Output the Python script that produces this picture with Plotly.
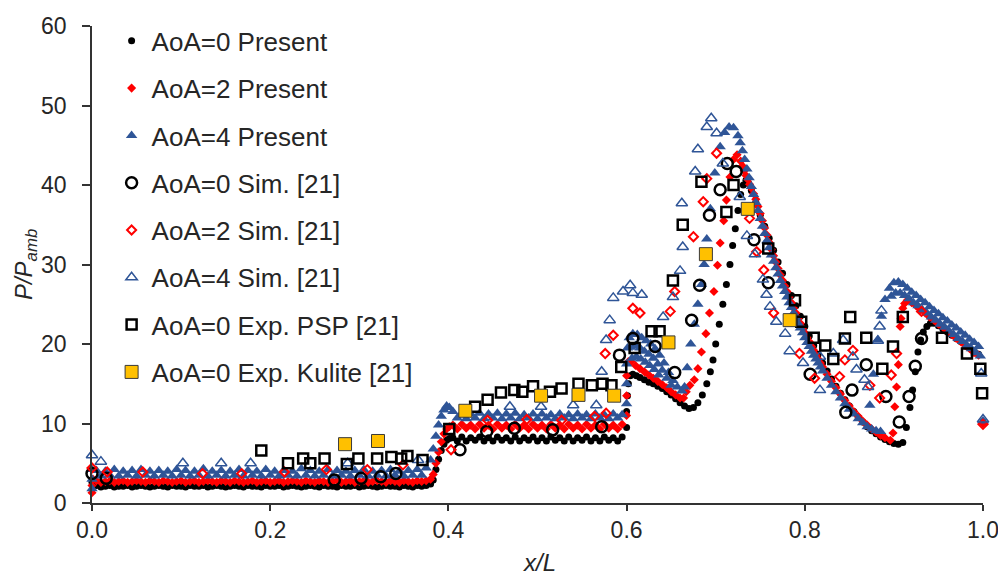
import plotly.graph_objects as go

# ---------------- data ----------------
# shared x positions of the dense "Present" samples in the two plateau regions
x_flat1 = [0.005, 0.010, 0.015, 0.020, 0.025, 0.030, 0.035, 0.040, 0.045, 0.050,
           0.055, 0.060, 0.065, 0.070, 0.075, 0.080, 0.085, 0.090, 0.095, 0.100,
           0.105, 0.110, 0.115, 0.120, 0.125, 0.130, 0.135, 0.140, 0.145, 0.150,
           0.155, 0.160, 0.165, 0.170, 0.175, 0.180, 0.185, 0.190, 0.195, 0.200,
           0.205, 0.210, 0.215, 0.220, 0.225, 0.230, 0.235, 0.240, 0.245, 0.250,
           0.255, 0.260, 0.265, 0.270, 0.275, 0.280, 0.285, 0.290, 0.295, 0.300,
           0.305, 0.310, 0.315, 0.320, 0.325, 0.330, 0.335, 0.340, 0.345, 0.350,
           0.355, 0.360, 0.365, 0.370, 0.375, 0.380]
x_ramp = [0.383, 0.386, 0.389, 0.392, 0.395, 0.398, 0.401]
x_flat2 = [0.405, 0.410, 0.415, 0.420, 0.425, 0.430, 0.435, 0.440, 0.445, 0.450,
           0.455, 0.460, 0.465, 0.470, 0.475, 0.480, 0.485, 0.490, 0.495, 0.500,
           0.505, 0.510, 0.515, 0.520, 0.525, 0.530, 0.535, 0.540, 0.545, 0.550,
           0.555, 0.560, 0.565, 0.570, 0.575, 0.580, 0.585, 0.590, 0.595]

# ---- AoA=0 Present ----
aoa0_x_lead = [0.000, 0.001]
aoa0_y_lead = [2.6, 2.1]
aoa0_y_flat1 = [2.2, 2.0, 2.1, 2.2, 2.0, 2.1, 2.1, 2.2, 2.0, 2.1,
                2.2, 2.1, 2.0, 2.1, 2.2, 2.1, 2.0, 2.2, 2.1, 2.1,
                2.0, 2.2, 2.1, 2.1, 2.2, 2.0, 2.1, 2.2, 2.1, 2.0,
                2.1, 2.2, 2.1, 2.0, 2.2, 2.1, 2.1, 2.0, 2.2, 2.1,
                2.1, 2.2, 2.0, 2.1, 2.2, 2.1, 2.0, 2.1, 2.2, 2.1,
                2.0, 2.2, 2.1, 2.1, 2.0, 2.2, 2.1, 2.1, 2.2, 2.0,
                2.1, 2.2, 2.1, 2.0, 2.1, 2.2, 2.1, 2.1, 2.0, 2.2,
                2.1, 2.0, 2.2, 2.1, 2.2, 2.4]
aoa0_y_ramp = [2.9, 4.2, 5.5, 6.6, 7.4, 7.9, 8.1]
aoa0_y_flat2 = [8.2, 7.8, 8.3, 7.8, 8.2, 7.9, 8.3, 7.8, 8.2, 7.8,
                8.3, 7.9, 8.2, 7.8, 8.3, 7.8, 8.2, 7.9, 8.3, 7.8,
                8.2, 7.8, 8.3, 7.9, 8.2, 7.8, 8.3, 7.8, 8.2, 7.9,
                8.3, 7.8, 8.2, 7.8, 8.3, 7.9, 8.2, 7.8, 8.3]
aoa0_x_aft = [0.600, 0.600, 0.601, 0.602, 0.604, 0.607, 0.611, 0.615, 0.620, 0.625,
              0.630, 0.635, 0.640, 0.645, 0.650, 0.655, 0.660, 0.665, 0.670, 0.675,
              0.680, 0.685, 0.690, 0.694, 0.697, 0.700, 0.704, 0.708, 0.712, 0.716,
              0.719, 0.722, 0.725, 0.728, 0.731, 0.734, 0.737, 0.740, 0.745, 0.750,
              0.755, 0.760, 0.765, 0.770, 0.775, 0.780, 0.785, 0.790, 0.795, 0.800,
              0.805, 0.810, 0.815, 0.820, 0.825, 0.830, 0.835, 0.840, 0.845, 0.850,
              0.855, 0.860, 0.865, 0.870, 0.875, 0.880, 0.885, 0.890, 0.895, 0.900,
              0.905, 0.910, 0.914, 0.918, 0.921, 0.924, 0.927, 0.930, 0.933, 0.937,
              0.941, 0.945, 0.950, 0.955, 0.960, 0.965, 0.970, 0.975, 0.980, 0.985,
              0.990, 0.995, 1.000]
aoa0_y_aft = [9.5, 11.5, 13.5, 15.0, 16.0, 16.2, 16.0, 15.8, 15.5, 15.2,
              15.0, 14.7, 14.4, 14.0, 13.6, 13.1, 12.6, 12.2, 11.9, 12.0,
              12.6, 13.6, 15.0, 16.5, 18.0, 20.0, 22.5, 25.0, 27.5, 30.0,
              32.4, 34.5, 36.8, 38.8, 40.0, 40.6, 40.2, 39.3, 37.8, 36.2,
              34.8, 33.3, 31.8, 30.3, 28.9, 27.5, 26.1, 24.8, 23.5, 22.2,
              21.0, 19.8, 18.7, 17.6, 16.6, 15.6, 14.7, 13.8, 13.0, 12.2,
              11.5, 10.8, 10.2, 9.6, 9.1, 8.7, 8.3, 8.0, 7.7, 7.5,
              7.4, 7.6, 9.5, 12.0, 14.2, 16.5, 19.0, 20.5, 21.5, 22.2,
              22.6, 22.6, 22.3, 21.9, 21.5, 21.1, 20.7, 20.3, 19.9, 19.5,
              19.1, 18.7, 10.2]

# ---- AoA=2 Present ----
aoa2_x_lead = [0.000, 0.000, 0.001]
aoa2_y_lead = [1.3, 2.2, 3.0]
aoa2_y_flat1 = [2.8, 2.6, 2.7, 2.8, 2.6, 2.7, 2.8, 2.6, 2.7, 2.8,
                2.7, 2.6, 2.8, 2.7, 2.6, 2.8, 2.7, 2.6, 2.7, 2.8,
                2.6, 2.7, 2.8, 2.6, 2.7, 2.8, 2.7, 2.6, 2.8, 2.7,
                2.6, 2.8, 2.7, 2.6, 2.7, 2.8, 2.6, 2.7, 2.8, 2.6,
                2.7, 2.8, 2.6, 2.7, 2.8, 2.7, 2.6, 2.8, 2.7, 2.6,
                2.8, 2.7, 2.6, 2.7, 2.8, 2.6, 2.7, 2.8, 2.6, 2.7,
                2.8, 2.6, 2.7, 2.8, 2.7, 2.6, 2.8, 2.7, 2.6, 2.8,
                2.7, 2.6, 2.8, 2.7, 2.8, 3.0]
aoa2_y_ramp = [3.6, 5.0, 6.4, 7.7, 8.7, 9.3, 9.6]
aoa2_y_flat2 = [9.8, 9.3, 9.9, 9.4, 9.8, 9.3, 9.9, 9.4, 9.8, 9.3,
                9.9, 9.4, 9.8, 9.3, 9.9, 9.4, 9.8, 9.3, 9.9, 9.4,
                9.8, 9.3, 9.9, 9.4, 9.8, 9.3, 9.9, 9.4, 9.8, 9.3,
                9.9, 9.4, 9.8, 9.3, 9.9, 9.4, 9.8, 9.3, 9.9]
aoa2_x_aft = [0.600, 0.600, 0.600, 0.602, 0.605, 0.610, 0.615, 0.620, 0.625, 0.630,
              0.635, 0.640, 0.645, 0.650, 0.655, 0.660, 0.664, 0.667, 0.671, 0.676,
              0.680, 0.684, 0.689, 0.693, 0.698, 0.702, 0.705, 0.709, 0.712, 0.716,
              0.720, 0.724, 0.728, 0.730, 0.732, 0.734, 0.736, 0.738, 0.740, 0.7425,
              0.745, 0.7475, 0.750, 0.7525, 0.755, 0.7575, 0.760, 0.7625, 0.765, 0.7675,
              0.770, 0.7725, 0.775, 0.7775, 0.780, 0.7825, 0.785, 0.7875, 0.790, 0.7925,
              0.795, 0.7975, 0.800, 0.8025, 0.805, 0.8075, 0.810, 0.8125, 0.815, 0.8175,
              0.820, 0.825, 0.830, 0.835, 0.840, 0.845, 0.850, 0.855, 0.860, 0.865,
              0.870, 0.875, 0.880, 0.885, 0.890, 0.896, 0.899, 0.901, 0.903, 0.905,
              0.907, 0.908, 0.910, 0.912, 0.915, 0.920, 0.925, 0.930, 0.935, 0.940,
              0.945, 0.950, 0.955, 0.960, 0.965, 0.970, 0.975, 0.980, 0.985, 0.990,
              0.995, 1.000]
aoa2_y_aft = [11.0, 13.5, 16.0, 17.8, 17.8, 17.3, 16.9, 16.5, 16.1, 15.7,
              15.3, 14.9, 14.5, 14.0, 13.6, 13.2, 13.2, 14.0, 14.8, 15.5,
              16.9, 19.0, 21.3, 23.9, 26.6, 29.9, 32.7, 35.5, 38.1, 41.0,
              43.2, 43.8, 43.0, 42.4, 41.8, 41.2, 40.7, 40.1, 39.6, 38.9,
              38.2, 37.3, 36.4, 35.5, 34.6, 33.7, 32.8, 31.9, 31.1, 30.3,
              29.5, 28.7, 28.0, 27.3, 26.6, 25.9, 25.2, 24.5, 23.9, 23.2,
              22.6, 22.0, 21.4, 20.8, 20.3, 19.7, 19.2, 18.6, 18.1, 17.6,
              17.1, 16.2, 15.3, 14.5, 13.7, 12.9, 12.2, 11.5, 10.9, 10.3,
              9.8, 9.3, 8.9, 8.5, 8.2, 7.9, 8.8, 12.1, 14.6, 17.4,
              22.2, 23.2, 24.5, 25.1, 25.5, 25.2, 24.8, 24.3, 23.9, 23.4,
              23.0, 22.5, 22.1, 21.6, 21.2, 20.7, 20.3, 19.8, 19.4, 18.9,
              18.6, 10.0]

# ---- AoA=4 Present ----
aoa4_x_lead = [0.000, 0.000, 0.000]
aoa4_y_lead = [1.8, 3.0, 4.2]
aoa4_y_flat1 = [4.1, 3.4, 4.0, 3.5, 4.2, 3.4, 4.0, 3.5, 4.1, 3.4,
                4.2, 3.5, 4.0, 3.4, 4.1, 3.5, 4.0, 3.4, 4.2, 3.5,
                4.1, 3.4, 4.0, 3.5, 4.3, 3.4, 4.0, 3.5, 4.1, 3.4,
                4.0, 3.5, 4.2, 3.4, 4.1, 3.5, 4.0, 3.4, 4.2, 3.5,
                4.0, 3.4, 4.1, 3.5, 4.0, 3.4, 4.3, 3.5, 4.1, 3.4,
                4.0, 3.5, 4.2, 3.4, 4.1, 3.5, 4.0, 3.4, 4.1, 3.5,
                4.2, 3.4, 4.0, 3.5, 4.1, 3.4, 4.2, 3.5, 4.0, 3.4,
                4.1, 3.5, 4.2, 3.5, 4.4, 5.4]
aoa4_y_ramp = [6.8, 8.4, 9.8, 10.9, 11.7, 12.2, 12.0]
aoa4_y_flat2 = [11.5, 10.7, 11.3, 10.6, 11.2, 10.7, 11.3, 10.6, 11.2, 10.7,
                11.3, 10.6, 11.2, 10.7, 11.3, 10.6, 11.1, 10.7, 11.2, 10.6,
                11.2, 10.7, 11.1, 10.6, 11.2, 10.7, 11.1, 10.6, 11.2, 10.7,
                11.1, 10.6, 11.2, 10.7, 11.1, 10.6, 11.2, 10.7, 11.1]
aoa4_x_aft = [0.600, 0.600, 0.600, 0.601, 0.603, 0.607, 0.612, 0.617, 0.622, 0.627,
              0.632, 0.637, 0.642, 0.647, 0.652, 0.657, 0.662, 0.665, 0.668, 0.672,
              0.676, 0.680, 0.684, 0.687, 0.690, 0.694, 0.699, 0.705, 0.710, 0.715,
              0.720, 0.725, 0.7275, 0.730, 0.7325, 0.735, 0.7375, 0.740, 0.7425, 0.745,
              0.7475, 0.750, 0.7525, 0.755, 0.7575, 0.760, 0.7625, 0.765, 0.7675, 0.770,
              0.7725, 0.775, 0.7775, 0.780, 0.7825, 0.785, 0.7875, 0.790, 0.7925, 0.795,
              0.7975, 0.800, 0.8025, 0.805, 0.8075, 0.810, 0.8125, 0.815, 0.8175, 0.820,
              0.825, 0.830, 0.835, 0.840, 0.845, 0.850, 0.855, 0.860, 0.865, 0.870,
              0.875, 0.880, 0.885, 0.873, 0.877, 0.882, 0.886, 0.890, 0.895, 0.900,
              0.905, 0.910, 0.915, 0.920, 0.925, 0.930, 0.935, 0.940, 0.945, 0.950,
              0.955, 0.960, 0.965, 0.970, 0.975, 0.980, 0.985, 0.990, 0.995, 1.000]
aoa4_y_aft = [12.5, 15.0, 17.5, 19.5, 20.8, 21.3, 21.2, 20.8, 20.4, 20.0,
              19.4, 18.6, 17.6, 16.4, 15.4, 14.6, 14.1, 14.6, 17.0, 20.0,
              22.5, 25.0, 27.5, 30.0, 33.2, 37.0, 41.5, 44.8, 46.6, 47.3,
              47.2, 46.2, 45.3, 44.3, 43.2, 42.0, 40.9, 39.8, 38.8, 37.8,
              36.8, 35.8, 34.8, 33.9, 33.0, 32.1, 31.2, 30.4, 29.6, 28.8,
              28.0, 27.3, 26.6, 25.9, 25.2, 24.6, 23.9, 23.3, 22.6, 22.0,
              21.4, 20.8, 20.2, 19.7, 19.1, 18.6, 18.1, 17.6, 17.1, 16.6,
              15.7, 14.8, 14.0, 13.2, 12.5, 11.8, 11.2, 10.6, 10.1, 9.6,
              9.3, 9.1, 9.0, 12.3, 16.2, 20.5, 23.5, 25.6, 27.0, 27.7,
              27.8, 27.5, 27.0, 26.5, 26.1, 25.6, 25.2, 24.7, 24.2, 23.8,
              23.3, 22.9, 22.4, 22.0, 21.5, 21.1, 20.6, 20.2, 19.7, 10.3]
# second / third rows of the thick AoA=4 bands
aoa4_x_rows = [0.605, 0.610, 0.615, 0.620, 0.625, 0.630, 0.635, 0.640, 0.645, 0.650,
               0.606, 0.611, 0.616, 0.621, 0.626, 0.631, 0.636,
               0.897, 0.902, 0.907, 0.912, 0.917, 0.922, 0.927, 0.932, 0.937, 0.942,
               0.947, 0.952, 0.957, 0.962, 0.967, 0.972, 0.977, 0.982, 0.987, 0.992, 0.997]
aoa4_y_rows = [19.6, 19.8, 19.5, 19.1, 18.7, 18.2, 17.5, 16.7, 15.7, 14.8,
               18.2, 18.4, 18.1, 17.7, 17.3, 16.8, 16.1,
               26.0, 26.4, 26.4, 26.1, 25.7, 25.2, 24.8, 24.3, 23.9, 23.4,
               23.0, 22.5, 22.1, 21.6, 21.2, 20.7, 20.3, 19.8, 19.4, 18.9, 18.5]

# ---- AoA=0 Sim. [21] ----
sim0_x = [0.000, 0.016, 0.272, 0.302, 0.324, 0.341, 0.413, 0.443, 0.474, 0.517,
          0.572, 0.592, 0.607, 0.632, 0.654, 0.673, 0.682, 0.693, 0.705, 0.713,
          0.723, 0.743, 0.759, 0.806, 0.846, 0.853, 0.869, 0.891, 0.906, 0.917,
          0.924, 0.931]
sim0_y = [3.7, 3.1, 2.9, 3.1, 3.3, 3.7, 6.7, 9.0, 9.4, 9.2,
          9.6, 18.6, 20.7, 19.7, 16.4, 23.0, 27.4, 36.2, 39.4, 42.7,
          41.7, 33.1, 27.7, 16.2, 11.4, 14.2, 17.4, 13.4, 10.2, 13.4,
          17.2, 20.7]

# ---- AoA=2 Sim. [21] ----
sim2_x = [0.000, 0.017, 0.057, 0.124, 0.168, 0.216, 0.263, 0.309, 0.349, 0.403,
          0.444, 0.488, 0.527, 0.564, 0.577, 0.576, 0.585, 0.607, 0.615, 0.649,
          0.654, 0.675, 0.686, 0.690, 0.701, 0.738, 0.746, 0.754, 0.765, 0.794,
          0.811, 0.839, 0.845, 0.854, 0.873, 0.884, 0.897, 0.903, 0.931, 1.000]
sim2_y = [4.4, 3.9, 3.9, 3.7, 3.7, 3.9, 4.2, 4.2, 4.8, 6.7,
          10.4, 10.5, 10.4, 10.9, 11.3, 18.8, 21.1, 24.5, 23.9, 24.1,
          26.6, 33.5, 37.9, 40.8, 44.0, 35.8, 31.6, 29.3, 23.9, 18.8,
          15.7, 15.9, 18.0, 19.2, 14.8, 13.2, 16.1, 18.8, 24.1, 9.9]

# ---- AoA=4 Sim. [21] ----
sim4_x = [0.000, 0.010, 0.102, 0.145, 0.178, 0.287, 0.366, 0.469, 0.504, 0.540,
          0.566, 0.572, 0.577, 0.581, 0.585, 0.596, 0.604, 0.607, 0.617, 0.641,
          0.652, 0.660, 0.663, 0.662, 0.677, 0.680, 0.690, 0.695, 0.701, 0.708,
          0.727, 0.735, 0.744, 0.753, 0.757, 0.761, 0.768, 0.778, 0.783, 0.798,
          0.817, 0.817, 0.832, 0.843, 0.854, 0.858, 0.867, 0.871, 0.882, 0.884,
          0.886, 0.998, 1.000]
sim4_y = [6.0, 5.2, 5.0, 5.0, 5.0, 5.0, 5.4, 12.1, 12.1, 12.3,
          12.3, 16.5, 20.5, 23.0, 25.8, 26.6, 27.4, 26.4, 26.2, 23.4,
          25.9, 29.2, 32.2, 37.7, 41.7, 44.5, 47.3, 48.4, 46.5, 42.7,
          38.5, 33.6, 31.3, 28.1, 26.2, 24.7, 22.8, 21.3, 19.1, 17.6,
          14.2, 18.4, 18.8, 20.5, 18.4, 16.8, 15.5, 14.6, 20.4, 22.2,
          24.2, 16.3, 10.5]

# ---- AoA=0 Exp. PSP [21] ----
psp_x = [0.190, 0.220, 0.237, 0.245, 0.261, 0.286, 0.299, 0.320, 0.336, 0.347,
         0.354, 0.371, 0.401, 0.430, 0.444, 0.459, 0.474, 0.483, 0.495, 0.514,
         0.527, 0.546, 0.561, 0.573, 0.583, 0.594, 0.609, 0.628, 0.637, 0.652,
         0.663, 0.684, 0.712, 0.720, 0.759, 0.789, 0.796, 0.810, 0.823, 0.832,
         0.845, 0.851, 0.869, 0.887, 0.899, 0.910, 0.954, 0.982, 0.997, 0.999]
psp_y = [6.6, 5.0, 5.6, 5.0, 5.6, 4.9, 5.6, 5.6, 5.8, 5.6,
         5.9, 5.4, 9.3, 12.1, 13.0, 13.9, 14.2, 14.0, 14.7, 14.0,
         14.4, 15.0, 14.8, 15.0, 14.8, 17.1, 19.5, 21.6, 21.6, 28.0,
         35.0, 40.4, 36.6, 40.0, 32.0, 25.5, 22.8, 20.8, 19.8, 18.1,
         20.7, 23.4, 20.8, 16.9, 19.7, 23.4, 20.8, 18.8, 16.9, 13.8]

# ---- AoA=0 Exp. Kulite [21] ----
kul_x = [0.284, 0.321, 0.419, 0.504, 0.546, 0.586, 0.647, 0.689, 0.736, 0.783]
kul_y = [7.4, 7.8, 11.6, 13.5, 13.6, 13.5, 20.2, 31.3, 37.0, 23.0]

# axis ticks
x_ticks = [0.0, 0.2, 0.4, 0.6, 0.8, 1.0]
x_tick_text = ["0.0", "0.2", "0.4", "0.6", "0.8", "1.0"]
y_ticks = [0, 10, 20, 30, 40, 50, 60]

# ---------------- figure ----------------
BLUE = "#2F5597"
RED = "#FF0000"
BLACK = "#000000"
GOLD = "#FFC000"
TXT = "#262626"
FONT = "Liberation Sans, Arial, sans-serif"

aoa0_x = aoa0_x_lead + x_flat1 + x_ramp + x_flat2 + aoa0_x_aft
aoa0_y = aoa0_y_lead + aoa0_y_flat1 + aoa0_y_ramp + aoa0_y_flat2 + aoa0_y_aft
aoa2_x = aoa2_x_lead + x_flat1 + x_ramp + x_flat2 + aoa2_x_aft
aoa2_y = aoa2_y_lead + aoa2_y_flat1 + aoa2_y_ramp + aoa2_y_flat2 + aoa2_y_aft
aoa4_x = aoa4_x_lead + x_flat1 + x_ramp + x_flat2 + aoa4_x_aft + aoa4_x_rows
aoa4_y = aoa4_y_lead + aoa4_y_flat1 + aoa4_y_ramp + aoa4_y_flat2 + aoa4_y_aft + aoa4_y_rows

fig = go.Figure()


def add(name, x, y, symbol, size, color, line_color=None, line_width=0):
    fig.add_trace(go.Scatter(
        x=x, y=y, mode="markers", name=name, legendgroup=name,
        cliponaxis=False,
        marker=dict(symbol=symbol, size=size, color=color,
                    line=dict(color=line_color or color, width=line_width)),
    ))


add("AoA=0 Present", aoa0_x, aoa0_y, "circle", 7, BLACK)
add("AoA=2 Present", aoa2_x, aoa2_y, "diamond", 7, RED)
add("AoA=4 Present", aoa4_x, aoa4_y, "triangle-up", 10, BLUE)
add("AoA=0 Sim. [21]", sim0_x, sim0_y, "circle-open", 11, BLACK, BLACK, 2.5)
add("AoA=2 Sim. [21]", sim2_x, sim2_y, "diamond-open", 7, RED, RED, 2)
add("AoA=4 Sim. [21]", sim4_x, sim4_y, "triangle-up-open", 10, BLUE, BLUE, 1.5)
add("AoA=0 Exp. PSP [21]", psp_x, psp_y, "square-open", 10, BLACK, BLACK, 2.5)
add("AoA=0 Exp. Kulite [21]", kul_x, kul_y, "square", 13, GOLD, "#3A3A3A", 1)

axis_common = dict(
    showgrid=False, zeroline=False, showline=True, linecolor="#333333", linewidth=1.5,
    ticks="outside", tickwidth=1.5, tickcolor="#333333",
    tickfont=dict(family=FONT, size=23, color=TXT),
)

# the page adds an 8 px body margin, so the figure is 8 px smaller than the window
fig.update_layout(
    width=998, height=570,
    margin=dict(l=84, r=23, t=18, b=75, autoexpand=False),
    paper_bgcolor="white", plot_bgcolor="white",
    font=dict(family=FONT, color=TXT),
    xaxis=dict(range=[0, 1], tickvals=x_ticks, ticktext=x_tick_text,
               ticklen=6, ticklabelstandoff=0, **axis_common),
    yaxis=dict(range=[0, 60], tickvals=y_ticks, ticklen=8,
               ticklabelstandoff=11, **axis_common),
    showlegend=True,
    legend=dict(x=0.022, y=1.018, xanchor="left", yanchor="top",
                bgcolor="rgba(0,0,0,0)", borderwidth=0, maxheight=520,
                font=dict(family=FONT, size=26, color=TXT),
                tracegroupgap=10.5, traceorder="grouped"),
    annotations=[
        dict(text="<i>x/L</i>", xref="paper", yref="paper", x=0.5017, y=-0.124,
             xanchor="center", yanchor="middle", showarrow=False,
             font=dict(family=FONT, size=24, color=TXT)),
        dict(text="<i>P/P<sub>amb</sub></i>", xref="paper", yref="paper",
             x=-0.0745, y=0.5, xanchor="center", yanchor="middle", textangle=-90,
             showarrow=False, font=dict(family=FONT, size=24, color=TXT)),
    ],
)

fig.write_html("out.html")
